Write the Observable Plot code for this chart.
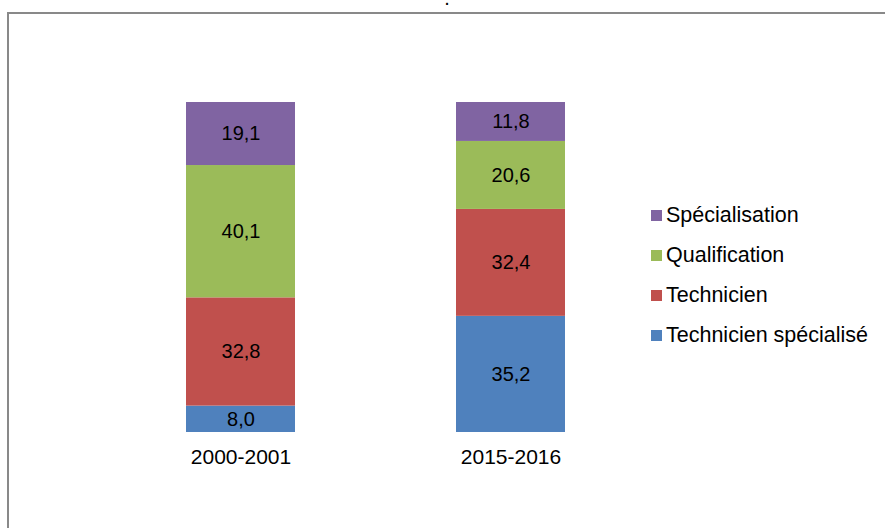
<!DOCTYPE html>
<html>
<head>
<meta charset="utf-8">
<script src="https://cdn.jsdelivr.net/npm/d3@7"></script>
<script src="https://cdn.jsdelivr.net/npm/@observablehq/plot@0.6"></script>
<style>
  html, body { margin: 0; padding: 0; background: #fff; }
  #wrap { position: relative; width: 885px; height: 528px; overflow: hidden; font-family: "Liberation Sans", Arial, sans-serif; }
  #frame { position: absolute; left: 7px; top: 12px; width: 1000px; height: 1000px; border: 2px solid #898989; box-sizing: border-box; }
  #title { position: absolute; left: 0; width: 885px; top: -13px; text-align: center; font-size: 20px; color: #000; padding-left: 9px; box-sizing: border-box; }
  #chart { position: absolute; left: 0; top: 0; }
  #legend { position: absolute; left: 651px; top: 195px; font-size: 21.5px; color: #000; }
  #legend .row { display: flex; align-items: center; height: 40px; white-space: nowrap; }
  #legend .sw { width: 11px; height: 11px; margin-right: 4px; flex: none; }
</style>
</head>
<body>
<div id="wrap">
  <div id="frame"></div>
  <div id="title">.</div>
  <div id="chart"></div>
  <div id="legend"></div>
</div>
<script>
const years = ["2000-2001", "2015-2016"];
const series = ["Technicien spécialisé", "Technicien", "Qualification", "Spécialisation"];
const values2000 = [8.0, 32.8, 40.1, 19.1];
const values2015 = [35.2, 32.4, 20.6, 11.8];
const colors = ["#4F81BD", "#C0504D", "#9BBB59", "#8064A2"];

const data = [];
[values2000, values2015].forEach((vals, i) => {
  series.forEach((s, j) => data.push({year: years[i], series: s, value: vals[j]}));
});

const fmt = v => v.toFixed(1).replace(".", ",");

const plot = Plot.plot({
  width: 885,
  height: 528,
  marginTop: 102, marginBottom: 96, marginLeft: 23, marginRight: 158,
  style: {fontFamily: '"Liberation Sans", Arial, sans-serif', fontSize: "20px", background: "transparent", overflow: "visible"},
  x: {domain: years, padding: 0.598, label: null},
  y: {domain: [0, 100], axis: null},
  color: {domain: series, range: colors},
  marks: [
    Plot.barY(data, Plot.stackY({x: "year", y: "value", z: "series", fill: "series", order: null})),
    Plot.text(data, Plot.stackY({x: "year", y: "value", z: "series", text: d => fmt(d.value), fill: "#000", fontSize: 20, order: null})),
    Plot.axisX({tickSize: 0, tickPadding: 17, fontSize: 21, color: "#000", label: null})
  ]
});
document.getElementById("chart").appendChild(plot);

const legend = document.getElementById("legend");
for (let k = series.length - 1; k >= 0; k--) {
  const row = document.createElement("div");
  row.className = "row";
  const sw = document.createElement("div");
  sw.className = "sw";
  sw.style.background = colors[k];
  const lab = document.createElement("span");
  lab.textContent = series[k];
  row.appendChild(sw);
  row.appendChild(lab);
  legend.appendChild(row);
}
</script>
</body>
</html>
